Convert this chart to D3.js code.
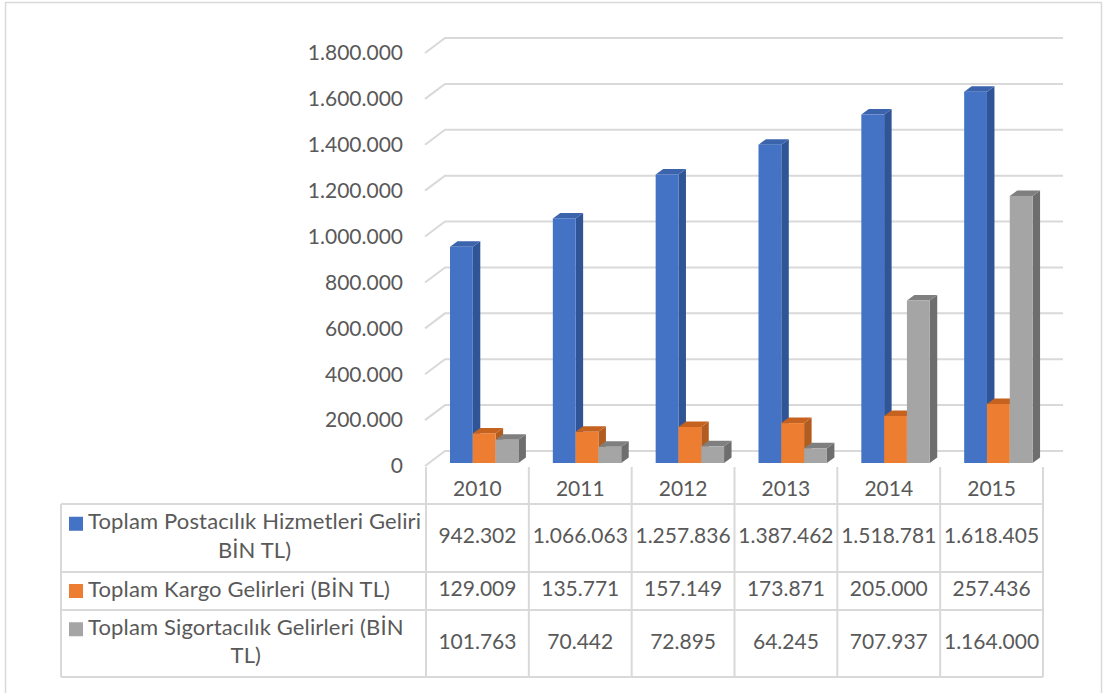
<!DOCTYPE html>
<html>
<head>
<meta charset="utf-8">
<script src="https://cdn.jsdelivr.net/npm/d3@7"></script>
<style>
  body { margin: 0; background: #fff; }
  svg { display: block; font-family: Lato, "Open Sans", sans-serif; }
</style>
</head>
<body>
<div id="chart"></div>
<script>
// Veriler
const years = ["2010", "2011", "2012", "2013", "2014", "2015"];
const postaValues = [942302, 1066063, 1257836, 1387462, 1518781, 1618405];
const kargoValues = [129009, 135771, 157149, 173871, 205000, 257436];
const sigortaValues = [101763, 70442, 72895, 64245, 707937, 1164000];
const yTicks = [0, 200000, 400000, 600000, 800000, 1000000, 1200000, 1400000, 1600000, 1800000];
const seriesNames = [
  ["Toplam Postacılık Hizmetleri Geliri", "BİN TL)"],
  ["Toplam Kargo Gelirleri (BİN TL)"],
  ["Toplam Sigortacılık Gelirleri (BİN", "TL)"]
];

const series = [
  { name: seriesNames[0], values: postaValues, front: "#4472c4", side: "#2f5597", top: "#3b64ad" },
  { name: seriesNames[1], values: kargoValues, front: "#ed7d31", side: "#b35c1f", top: "#c5621f" },
  { name: seriesNames[2], values: sigortaValues, front: "#a5a5a5", side: "#6e6e6e", top: "#7f7f7f" }
];

const width = 1105;
const height = 693;
const textColor = "#595959";
const gridColor = "#d9d9d9";
const numSize = 21;
const labelSize = 22;

const trLocale = d3.formatLocale({ decimal: ",", thousands: ".", grouping: [3], currency: ["", " TL"] });
const fmt = trLocale.format(",d");

// 3B derinlik: arka duvar kaydırması
const wallDx = 20, wallDy = -15;
const barDepth = { x0: 4, y0: -3, dx: 7.5, dy: -5.5 };

const x = d3.scaleBand().domain(years).range([426, 1043]);
const xs = d3.scaleBand().domain(d3.range(series.length)).range([20, 88.4]);
const y = d3.scaleLinear().domain([0, 1800000]).range([466, 53]);

const svg = d3.select("#chart").append("svg")
  .attr("width", width)
  .attr("height", height)
  .attr("viewBox", [0, 0, width, height]);

// Dış çerçeve
svg.append("rect")
  .attr("x", 5.5).attr("y", 2.5)
  .attr("width", 1096).attr("height", 700)
  .attr("fill", "none").attr("stroke", gridColor).attr("stroke-width", 1.5);

// Kılavuz çizgileri
const [xl, xr] = x.range();
const grid = svg.append("g").attr("stroke", gridColor).attr("stroke-width", 2).attr("fill", "none");
grid.selectAll("path")
  .data(yTicks)
  .join("path")
  .attr("d", d => `M${xl - 1},${y(d)}L${xl + wallDx - 1},${y(d) + wallDy}L${xr + wallDx},${y(d) + wallDy}`);

// Eksen etiketleri
svg.append("g")
  .attr("fill", textColor)
  .attr("font-size", numSize)
  .attr("text-anchor", "end")
  .selectAll("text")
  .data(yTicks)
  .join("text")
  .attr("x", 403)
  .attr("y", d => y(d) + 2)
  .attr("dominant-baseline", "middle")
  .text(d => fmt(d));

// Çubuklar (3B)
const bars = svg.append("g");
years.forEach((yr, j) => {
  series.forEach((s, i) => {
    const v = s.values[j];
    const bx = x(yr) + xs(i) + barDepth.x0;
    const bw = xs.bandwidth();
    const by = y(v) + barDepth.y0;
    const bb = y(0) + barDepth.y0;
    const g = bars.append("g");
    // yan yüz
    g.append("path")
      .attr("fill", s.side)
      .attr("d", `M${bx + bw},${by}L${bx + bw + barDepth.dx},${by + barDepth.dy}L${bx + bw + barDepth.dx},${bb + barDepth.dy}L${bx + bw},${bb}Z`);
    // üst yüz
    g.append("path")
      .attr("fill", s.top)
      .attr("d", `M${bx},${by}L${bx + barDepth.dx},${by + barDepth.dy}L${bx + bw + barDepth.dx},${by + barDepth.dy}L${bx + bw},${by}Z`);
    // ön yüz
    g.append("rect")
      .attr("x", bx).attr("y", by)
      .attr("width", bw).attr("height", bb - by)
      .attr("fill", s.front);
  });
});

// Veri tablosu
const tableLeft = 61;
const rowEdges = [467, 504, 572, 610, 677];
const table = svg.append("g").attr("stroke", gridColor).attr("stroke-width", 2);

// yatay çizgiler
rowEdges.slice(1).forEach(ry => {
  table.append("line").attr("x1", tableLeft).attr("x2", xr).attr("y1", ry).attr("y2", ry);
});
// dikey çizgiler
table.append("line").attr("x1", tableLeft).attr("x2", tableLeft).attr("y1", rowEdges[1]).attr("y2", rowEdges[4]);
years.concat([null]).forEach((yr, j) => {
  const cx = yr ? x(yr) : xr;
  table.append("line").attr("x1", cx).attr("x2", cx).attr("y1", rowEdges[0]).attr("y2", rowEdges[4]);
});

const txt = svg.append("g").attr("fill", textColor).attr("font-size", numSize);

// yıl başlıkları
txt.selectAll(".year")
  .data(years)
  .join("text")
  .attr("class", "year")
  .attr("x", d => x(d) + x.bandwidth() / 2)
  .attr("y", (rowEdges[0] + rowEdges[1]) / 2 + 5)
  .attr("text-anchor", "middle")
  .attr("dominant-baseline", "middle")
  .text(d => d);

series.forEach((s, i) => {
  const top = rowEdges[i + 1], bottom = rowEdges[i + 2];
  const mid = (top + bottom) / 2;
  const lines = s.name;
  const lineH = 28.5;
  const firstY = mid - (lines.length - 1) * lineH / 2;

  // lejant kutusu
  svg.append("rect")
    .attr("x", 69).attr("y", firstY - 7)
    .attr("width", 14).attr("height", 14)
    .attr("fill", s.front);

  const first = txt.append("text")
    .attr("x", 88).attr("y", firstY)
    .attr("font-size", labelSize)
    .attr("letter-spacing", 0.15)
    .attr("dominant-baseline", "middle")
    .text(lines[0]);
  const w = first.node().getComputedTextLength();
  if (lines.length > 1) {
    txt.append("text")
      .attr("x", 88 + w / 2).attr("y", firstY + lineH)
      .attr("font-size", labelSize)
      .attr("letter-spacing", 0.15)
      .attr("text-anchor", "middle")
      .attr("dominant-baseline", "middle")
      .text(lines[1]);
  }

  // değerler
  txt.selectAll(null)
    .data(s.values)
    .join("text")
    .attr("x", (d, j) => x(years[j]) + x.bandwidth() / 2)
    .attr("y", mid)
    .attr("text-anchor", "middle")
    .attr("dominant-baseline", "middle")
    .text(d => fmt(d));
});
</script>
</body>
</html>
